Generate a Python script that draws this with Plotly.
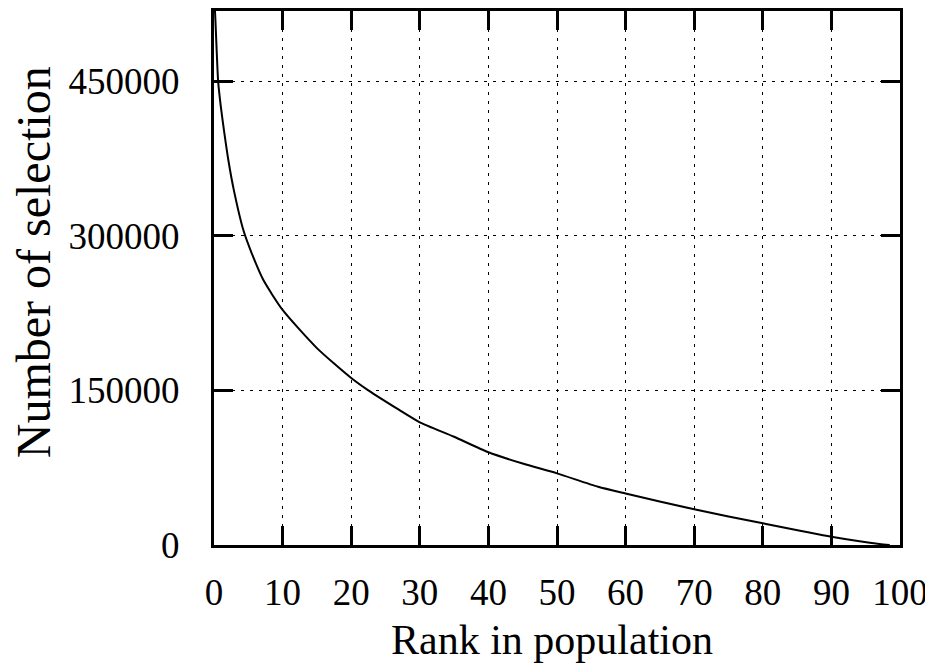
import plotly.graph_objects as go

# Data
rank = [0, 0.15, 0.6, 1.0, 1.5, 2.1, 2.9, 4.3, 5.5, 7.2, 10, 15, 20, 22.5, 27, 30,
        35, 40, 45, 50, 56, 60, 70, 80, 90, 97, 98.5]
selections = [530000, 517000, 450000, 425000, 400000, 373000, 344000, 305000, 283000,
              257000, 228000, 191000, 162000, 150000, 131000, 119000, 105000,
              90000, 79000, 69500, 56500, 50000, 34600, 21000, 8000, 1000, 0]

x_ticks = [0, 10, 20, 30, 40, 50, 60, 70, 80, 90, 100]
y_ticks = [0, 150000, 300000, 450000]

FONT = "Liberation Serif"

fig = go.Figure()
fig.add_trace(go.Scatter(x=rank, y=selections, mode="lines",
                         line=dict(color="black", width=2, shape="spline", smoothing=0.6),
                         showlegend=False))

axis_common = dict(
    showline=True, linecolor="black", linewidth=3, mirror="allticks",
    ticks="inside", ticklen=19, tickwidth=3, tickcolor="black",
    showgrid=True, gridcolor="black", gridwidth=1, griddash="3px,6px",
    zeroline=False, tickfont=dict(family=FONT, size=37, color="black"),
    automargin=False,
)

fig.update_xaxes(range=[0, 100], tickvals=x_ticks, ticklabelstandoff=13,
                 ticktext=[str(v) for v in x_ticks], **axis_common)
fig.update_yaxes(range=[0, 518000], tickvals=y_ticks, ticklabelstandoff=24,
                 ticktext=[str(v) for v in y_ticks], **axis_common)

# the page body has an 8px margin, so the figure is sized and offset for it
fig.update_layout(
    width=925, height=658,
    margin=dict(l=206, r=33, t=3, b=121),
    paper_bgcolor="white", plot_bgcolor="white",
    annotations=[
        dict(text="Rank in population", xref="paper", yref="paper",
             x=0.493, y=-0.178, showarrow=False, xanchor="center", yanchor="middle",
             font=dict(family=FONT, size=42, color="black")),
        dict(text="Number of selection", xref="paper", yref="paper",
             x=-0.262, y=0.53, showarrow=False, textangle=-90,
             xanchor="center", yanchor="middle",
             font=dict(family=FONT, size=48, color="black")),
    ],
)

fig.write_html("out.html")
